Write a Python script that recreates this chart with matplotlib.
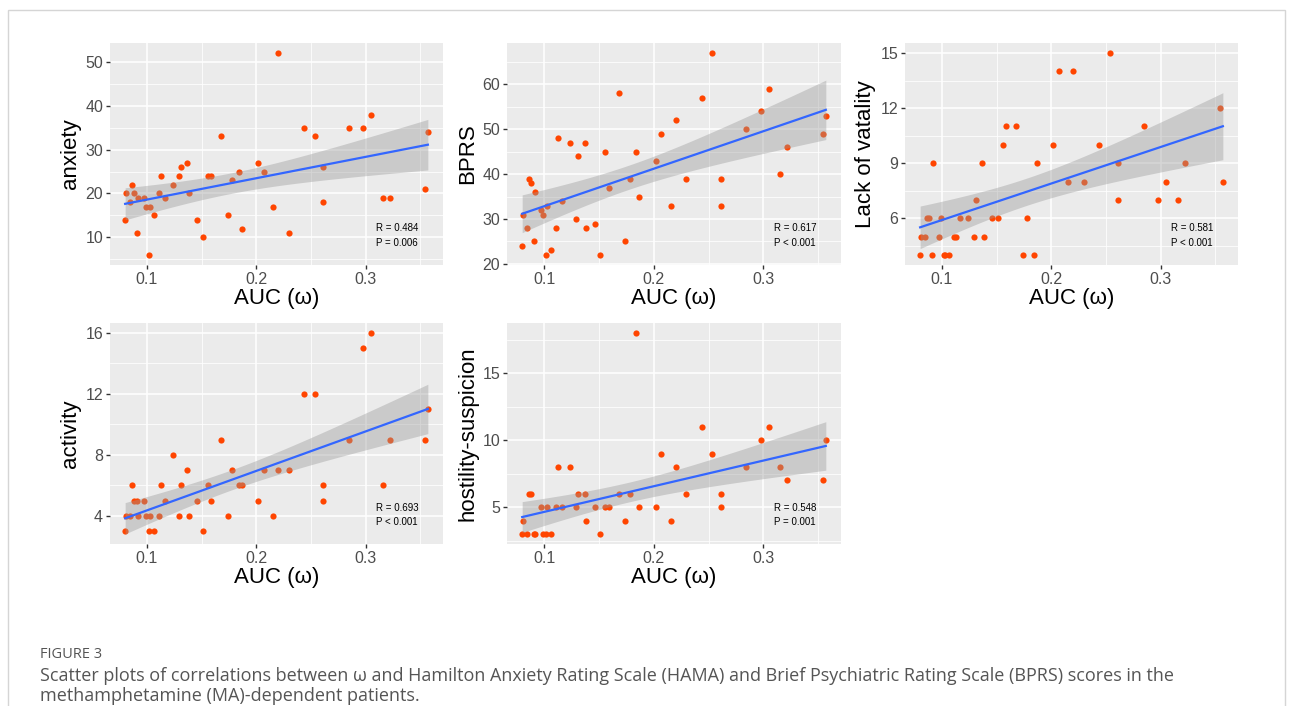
import numpy as np
import matplotlib
matplotlib.use("Agg")
import matplotlib.pyplot as plt
from matplotlib.patches import Rectangle
from matplotlib.ticker import FixedLocator

plt.rcParams['font.family'] = ['Liberation Sans', 'DejaVu Sans']

# AUC (omega) per patient, shared by every panel
auc = [0.0800, 0.0805, 0.0847, 0.0863, 0.0881, 0.0908, 0.0915, 0.0970, 0.0988, 0.1020,
       0.1030, 0.1060, 0.1110, 0.1130, 0.1165, 0.1240, 0.1290, 0.1310, 0.1370, 0.1380,
       0.1460, 0.1510, 0.1560, 0.1590, 0.1680, 0.1740, 0.1780, 0.1840, 0.1870, 0.2017,
       0.2070, 0.2154, 0.2200, 0.2295, 0.2440, 0.2536, 0.2610, 0.2610, 0.2844, 0.2976,
       0.3050, 0.3156, 0.3220, 0.3540, 0.3570]

anxiety = [14, 20, 18, 22, 20, 11, 19, 19, 17, 6, 17, 15, 20, 24, 19, 22, 24, 26, 27, 20,
           14, 10, 24, 24, 33, 15, 23, 25, 12, 27, 25, 17, 52, 11, 35, 33, 26, 18, 35, 35,
           38, 19, 19, 21, 34]
bprs = [24, 31, 28, 39, 38, 25, 36, 32, 31, 22, 33, 23, 28, 48, 34, 47, 30, 44, 47, 28,
        29, 22, 45, 37, 58, 25, 39, 45, 35, 43, 49, 33, 52, 39, 57, 67, 39, 33, 50, 54,
        59, 40, 46, 49, 53]
vitality = [4, 5, 5, 6, 6, 4, 9, 5, 6, 4, 4, 4, 5, 5, 6, 6, 5, 7, 9, 5,
            6, 6, 10, 11, 11, 4, 6, 4, 9, 10, 14, 8, 14, 8, 10, 15, 9, 7, 11, 7,
            8, 7, 9, 12, 8]
activity = [3, 4, 4, 6, 5, 5, 4, 5, 4, 3, 4, 3, 4, 6, 5, 8, 4, 6, 7, 4,
            5, 3, 6, 5, 9, 4, 7, 6, 6, 5, 7, 4, 7, 7, 12, 12, 6, 5, 9, 15,
            16, 6, 9, 9, 11]
hostility = [3, 4, 3, 6, 6, 3, 3, 5, 3, 3, 5, 3, 5, 8, 5, 8, 5, 6, 6, 4,
             5, 3, 5, 5, 6, 4, 6, 18, 5, 5, 9, 4, 8, 6, 11, 9, 6, 5, 8, 10,
             11, 8, 7, 7, 10]

ylabels = ["anxiety", "BPRS", "Lack of vatality", "activity", "hostility-suspicion"]
yticks = [[10, 20, 30, 40, 50], [20, 30, 40, 50, 60], [6, 9, 12, 15], [4, 8, 12, 16], [5, 10, 15]]
stats = [("R = 0.484", "P = 0.006"), ("R = 0.617", "P < 0.001"), ("R = 0.581", "P < 0.001"),
         ("R = 0.693", "P < 0.001"), ("R = 0.548", "P = 0.001")]

W, H = 1293, 706
fig = plt.figure(figsize=(W / 100, H / 100), dpi=100)

# panel boxes in pixels: left, top, right, bottom
boxes = [(110, 43, 443, 265), (507, 43, 841, 265), (905, 43, 1238, 265),
         (110, 323, 443, 544), (507, 323, 841, 544)]


def lm_band(x, y, n=80, t=2.0167):
    x = np.asarray(x, float)
    y = np.asarray(y, float)
    b1, b0 = np.polyfit(x, y, 1)
    resid = y - (b0 + b1 * x)
    s = np.sqrt(np.sum(resid ** 2) / (len(x) - 2))
    sxx = np.sum((x - x.mean()) ** 2)
    xs = np.linspace(x.min(), x.max(), n)
    fit = b0 + b1 * xs
    se = s * np.sqrt(1 / len(x) + (xs - x.mean()) ** 2 / sxx)
    return xs, fit, fit - t * se, fit + t * se


series = [anxiety, bprs, vitality, activity, hostility]
for i, (yv, box) in enumerate(zip(series, boxes)):
    l, t_, r, b = box
    ax = fig.add_axes([l / W, 1 - b / H, (r - l) / W, (b - t_) / H])
    ax.set_facecolor("#EBEBEB")
    for sp in ax.spines.values():
        sp.set_visible(False)

    xs, fit, lo, hi = lm_band(auc, yv)
    ax.scatter(auc, yv, s=20, color="#FF4500", linewidths=0, zorder=2)
    ax.fill_between(xs, lo, hi, color="#999999", alpha=0.4, linewidth=0, zorder=3)
    ax.plot(xs, fit, color="#3366FF", lw=1.6, zorder=4)

    xmin, xmax = min(auc), max(auc)
    dx = (xmax - xmin) * 0.05
    ax.set_xlim(xmin - dx, xmax + dx)
    ymin = min(min(yv), lo.min())
    ymax = max(max(yv), hi.max())
    dy = (ymax - ymin) * 0.05
    ax.set_ylim(ymin - dy, ymax + dy)

    ax.xaxis.set_major_locator(FixedLocator([0.1, 0.2, 0.3]))
    ax.xaxis.set_minor_locator(FixedLocator([0.05, 0.15, 0.25, 0.35]))
    ax.set_xticklabels(["0.1", "0.2", "0.3"])
    yt = yticks[i]
    step = yt[1] - yt[0]
    ax.yaxis.set_major_locator(FixedLocator(yt))
    ax.yaxis.set_minor_locator(FixedLocator([yt[0] - step / 2] + [v + step / 2 for v in yt]))
    ax.grid(which="major", color="white", lw=1.1)
    ax.grid(which="minor", color="white", lw=0.55)
    ax.set_axisbelow(True)
    ax.tick_params(which="major", length=3, width=1, color="#333333",
                   labelcolor="#4D4D4D", labelsize=11.5, pad=2)
    ax.tick_params(which="minor", length=0)

    ax.set_xlabel("AUC (\u03c9)", fontsize=16, labelpad=1)
    ax.set_ylabel(ylabels[i], fontsize=16, labelpad=3)

    ax.text(0.80, 0.165, stats[i][0], transform=ax.transAxes, fontsize=7, va="center")
    ax.text(0.80, 0.100, stats[i][1], transform=ax.transAxes, fontsize=7, va="center")

# caption
cap_font = ['Open Sans', 'DejaVu Sans']
fig.text(40 / W, 1 - 654 / H, "FIGURE 3", fontsize=10.5, color="#555555",
         family=cap_font, va="center")
fig.text(40 / W, 1 - 676 / H,
         "Scatter plots of correlations between \u03c9 and Hamilton Anxiety Rating Scale (HAMA) "
         "and Brief Psychiatric Rating Scale (BPRS) scores in the",
         fontsize=13, color="#555555", family=cap_font, va="center")
fig.text(40 / W, 1 - 696 / H, "methamphetamine (MA)-dependent patients.",
         fontsize=13, color="#555555", family=cap_font, va="center")

# light frame around the figure
fig.patches.append(Rectangle((8 / W, -0.05), (1285 - 8) / W, 1 - 10 / H + 0.05,
                             transform=fig.transFigure, fill=False,
                             edgecolor="#D5D5D5", lw=1))

fig.savefig("out.png", dpi=100)
